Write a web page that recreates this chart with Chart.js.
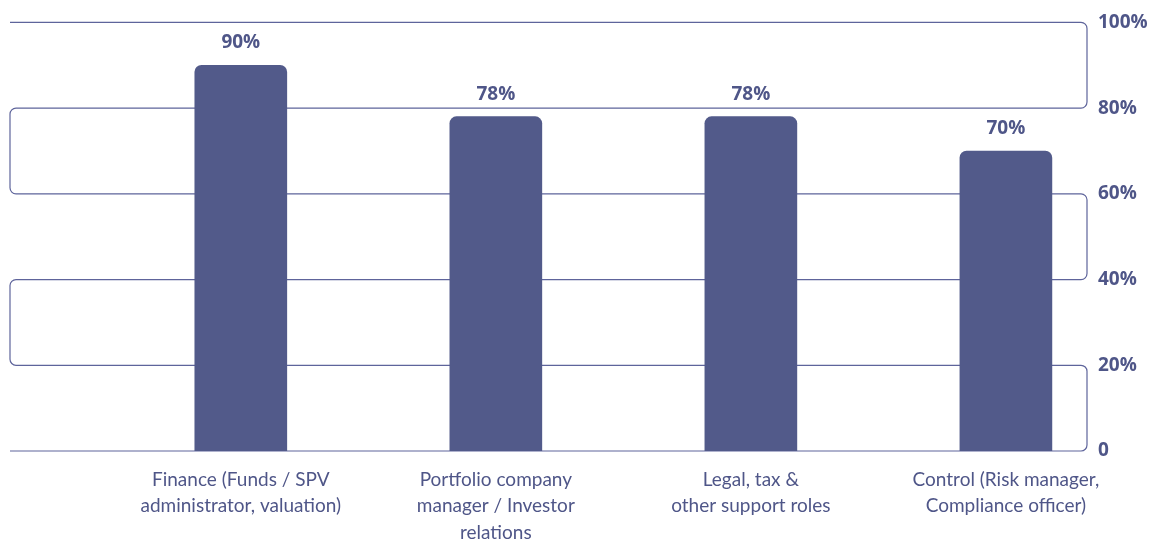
<!DOCTYPE html>
<html>
<head>
<meta charset="utf-8">
<script src="https://cdn.jsdelivr.net/npm/chart.js@4/dist/chart.umd.min.js"></script>
<style>
  html, body { margin: 0; padding: 0; background: #ffffff; }
  #wrap { width: 1167px; height: 544px; position: relative; }
</style>
</head>
<body>
<div id="wrap"><canvas id="c" width="1167" height="544"></canvas></div>
<script>
// ---- data ----
const categories = [
  ["Finance (Funds / SPV", "administrator, valuation)"],
  ["Portfolio company", "manager / Investor", "relations"],
  ["Legal, tax &", "other support roles"],
  ["Control (Risk manager,", "Compliance officer)"]
];
const shares = [90, 78, 78, 70];
const valueLabels = ["90%", "78%", "78%", "70%"];
const yTicks = [0, 20, 40, 60, 80, 100];
const yTickLabels = ["0", "20%", "40%", "60%", "80%", "100%"];

// ---- style ----
const BAR = "#525a8a";
const TEXT = "#4f5688";
const GRID = "#5e649b";
const FONT = "Lato, 'Open Sans', sans-serif";
const BOLD_FONT = "'Open Sans', Lato, sans-serif";

const serpentineGrid = {
  id: "serpentineGrid",
  beforeDatasetsDraw(chart) {
    const { ctx, chartArea, scales } = chart;
    const y = scales.y;
    const L = chartArea.left, R = chartArea.right, r = 6;
    const vals = yTicks.slice().sort((a, b) => b - a); // 100 .. 0
    ctx.save();
    ctx.strokeStyle = GRID;
    ctx.lineWidth = 1.2;
    ctx.beginPath();
    let py = y.getPixelForValue(vals[0]);
    ctx.moveTo(L, py);
    let side = "right";
    for (let i = 1; i < vals.length; i++) {
      const ny = y.getPixelForValue(vals[i]);
      if (side === "right") {
        ctx.lineTo(R - r, py);
        ctx.arcTo(R, py, R, py + r, r);
        ctx.lineTo(R, ny - r);
        ctx.arcTo(R, ny, R - r, ny, r);
        side = "left";
      } else {
        ctx.lineTo(L + r, py);
        ctx.arcTo(L, py, L, py + r, r);
        ctx.lineTo(L, ny - r);
        ctx.arcTo(L, ny, L + r, ny, r);
        side = "right";
      }
      py = ny;
    }
    ctx.lineTo(side === "right" ? R : L, py);
    ctx.stroke();
    ctx.restore();
  }
};

const valueLabelPlugin = {
  id: "valueLabels",
  afterDatasetsDraw(chart) {
    const { ctx } = chart;
    const meta = chart.getDatasetMeta(0);
    ctx.save();
    ctx.font = "700 19px " + BOLD_FONT;
    ctx.textAlign = "center";
    ctx.textBaseline = "middle";
    meta.data.forEach((bar, i) => {
      const txt = valueLabels[i];
      const cy = bar.y - 22.5;
      const w = ctx.measureText(txt).width + 8;
      ctx.fillStyle = "#ffffff";
      ctx.fillRect(bar.x - w / 2, cy - 12, w, 24);
      ctx.fillStyle = TEXT;
      ctx.fillText(txt, bar.x, cy);
    });
    ctx.restore();
  }
};

new Chart(document.getElementById("c"), {
  type: "bar",
  data: {
    datasets: [{
      data: shares.map((v, i) => ({ x: i, y: v })),
      backgroundColor: BAR,
      borderWidth: 0,
      borderSkipped: "bottom",
      borderRadius: { topLeft: 7, topRight: 7, bottomLeft: 0, bottomRight: 0 },
      barThickness: 92
    }]
  },
  options: {
    responsive: false,
    animation: false,
    events: [],
    layout: { padding: { left: 10, top: 21, right: 0, bottom: 0 } },
    plugins: { legend: { display: false }, tooltip: { enabled: false } },
    scales: {
      x: {
        type: "linear",
        offset: false,
        min: -0.905,
        max: 3.318,
        grid: { display: false, drawTicks: false },
        border: { display: false },
        afterBuildTicks(axis) { axis.ticks = categories.map((c, i) => ({ value: i })); },
        afterFit(axis) { axis.height = 93; },
        ticks: {
          autoSkip: false,
          maxRotation: 0,
          padding: 16,
          color: TEXT,
          font: { family: FONT, size: 19, weight: 400, lineHeight: 1.38 },
          callback: (v) => categories[v]
        }
      },
      y: {
        position: "right",
        min: 0,
        max: 100,
        grid: { display: false, drawTicks: false },
        border: { display: false },
        afterBuildTicks(axis) { axis.ticks = yTicks.map(v => ({ value: v })); },
        afterFit(axis) { axis.width = 80; },
        ticks: {
          padding: 11,
          color: TEXT,
          font: { family: BOLD_FONT, size: 19, weight: 700 },
          callback: (v) => yTickLabels[yTicks.indexOf(v)]
        }
      }
    }
  },
  plugins: [serpentineGrid, valueLabelPlugin]
});
</script>
</body>
</html>
